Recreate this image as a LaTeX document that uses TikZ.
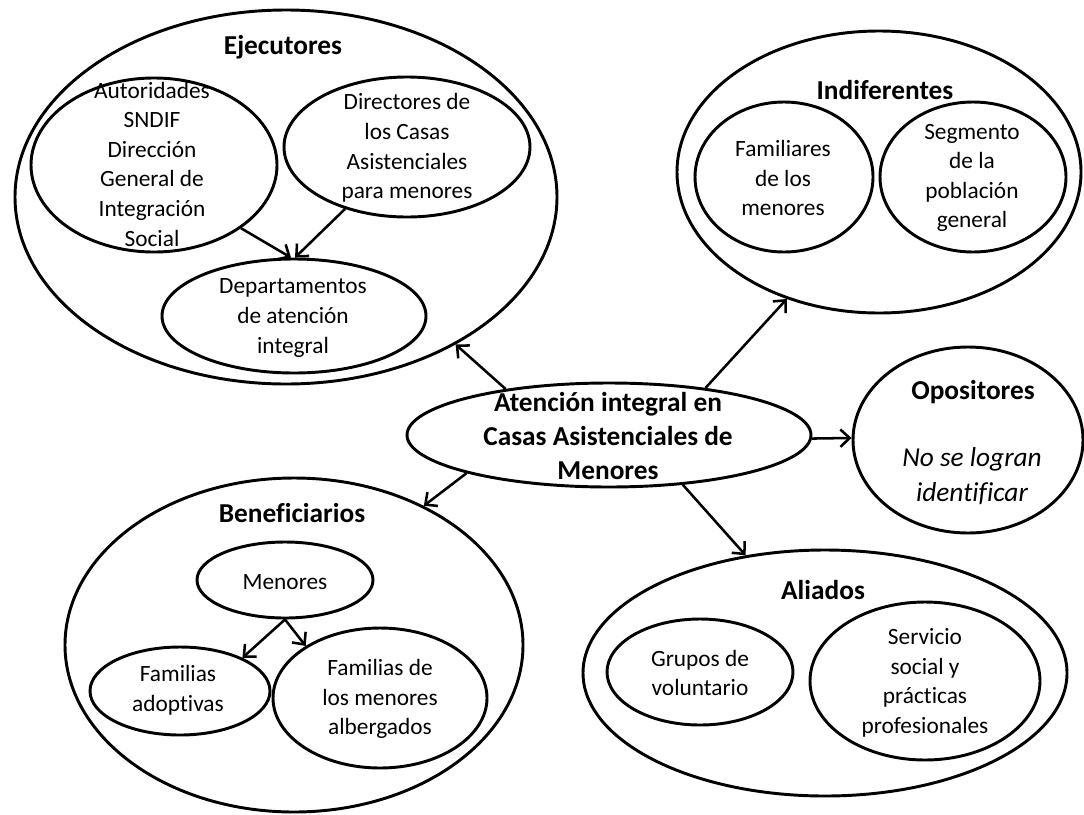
\documentclass[tikz,border=0pt]{standalone}
\usepackage{fontspec}
\setmainfont{Carlito}[Ligatures={NoCommon}]
\usetikzlibrary{arrows.meta,shapes.geometric}
\begin{document}
\begin{tikzpicture}[x=0.75pt,y=-0.75pt,
  ell/.style n args={2}{ellipse, draw, line width=2.2pt, minimum width={#1*1.5pt}, minimum height={#2*1.5pt}, inner sep=0pt},
  txt/.style={align=center, font=\fontsize{17.5pt}{22.2pt}\selectfont, inner sep=0pt},
  ttl/.style={font=\fontsize{20.5pt}{24pt}\selectfont\bfseries, inner sep=0pt},
  ctr/.style={align=center, font=\fontsize{20.5pt}{25.5pt}\selectfont\bfseries, inner sep=0pt},
  ita/.style={align=center, font=\fontsize{20.5pt}{26.2pt}\selectfont\itshape, inner sep=0pt},
  arr/.style={-{Straight Barb[length=7pt,width=13pt]}, line width=1.9pt}]
\useasboundingbox (0,0) rectangle (1084,814);
\fill[white] (0,0) rectangle (1084,814);

% ellipses
\node[ell={271}{187}] (ej) at (286,197) {};
\node[ell={123}{87}] (aut) at (154,165) {};
\node[ell={123}{70}] (dir) at (407,147) {};
\node[ell={132}{57}] (dep) at (294,316) {};
\node[ell={202}{141}] (ind) at (879,172) {};
\node[ell={89}{75}] (fam) at (784,177) {};
\node[ell={93}{75}] (seg) at (973,177) {};
\node[ell={202}{52}] (c) at (609,435) {};
\node[ell={115}{93}] (op) at (968,440) {};
\node[ell={229}{167}] (ben) at (294,645) {};
\node[ell={88}{38}] (men) at (285,580) {};
\node[ell={90}{44}] (fa) at (180,691) {};
\node[ell={107}{70}] (fdl) at (380,698) {};
\node[ell={242}{123}] (ali) at (825,673) {};
\node[ell={93}{53}] (gru) at (700,672) {};
\node[ell={115}{79}] (ser) at (925,681) {};

% texts
\node[ttl] (tej) at (283,47) {Ejecutores};
\node[txt] (taut) at (152,164) {Autoridades\\SNDIF\\Dirección\\General de\\Integración\\Social};
\node[txt] (tdir) at (407,148) {Directores de\\los Casas\\Asistenciales\\para menores};
\node[txt] (tdep) at (293,318) {Departamentos\\de atención\\integral};
\node[ttl] (tind) at (885,90) {Indiferentes};
\node[txt] (tfam) at (783,178) {Familiares\\de los\\menores};
\node[txt] (tseg) at (972,178) {Segmento\\de la\\población\\general};
\node[ctr] (tc) at (608,436) {Atención integral en\\Casas Asistenciales de\\Menores};
\node[ttl] (top) at (973,392) {Opositores};
\node[ita] (tno) at (972,476) {No se logran\\identificar};
\node[ttl] (tben) at (292,513) {Beneficiarios};
\node[txt] (tmen) at (285,582) {Menores};
\node[txt] (tfa) at (178,690) {Familias\\adoptivas};
\node[txt] (tfdl) at (380,699) {Familias de\\los menores\\albergados};
\node[ttl] (tali) at (823,590) {Aliados};
\node[txt] (tgru) at (700,673) {Grupos de\\voluntario};
\node[txt] (tser) at (925,683) {Servicio\\social y\\prácticas\\profesionales};

% arrows
\draw[arr] (c.156) -- (ej.319);
\draw[arr] (c.26) -- (ind.234);
\draw[arr] (c.359) -- (op.179);
\draw[arr] (c.195) -- (ben.47);
\draw[arr] (c.326) -- (ali.124);
\draw[arr] (aut.324) -- (dep.93);
\draw[arr] (dir.225) -- (dep.89);
\draw[arr] (men.south) -- (fa.28);
\draw[arr] (men.south) -- (fdl.145);
\end{tikzpicture}
\end{document}
